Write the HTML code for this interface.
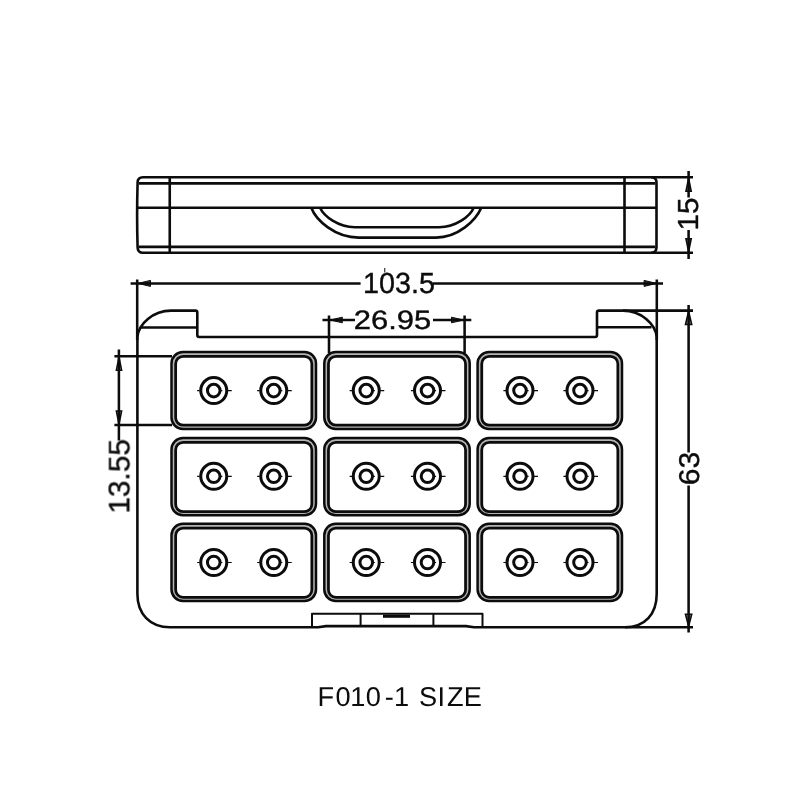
<!DOCTYPE html>
<html lang="en">
<head>
<meta charset="utf-8">
<title>F010-1 SIZE</title>
<style>
html,body{margin:0;padding:0;background:#fff;}
body{width:800px;height:800px;overflow:hidden;font-family:"Liberation Sans",sans-serif;}
svg{display:block;}
</style>
</head>
<body>
<svg width="800" height="800" viewBox="0 0 800 800" role="img" aria-label="F010-1 size drawing">
<rect width="800" height="800" fill="#ffffff"/>
<g fill="none" stroke="#0c0c0c" stroke-linecap="butt" stroke-linejoin="round">
<!-- side view -->
<g stroke-width="2.6">
<path d="M143,177.3H651.2Q656.5,177.3 656.5,182.7V247.2Q656.5,252.7 651.2,252.7H143Q137.6,252.7 137.6,247.2Q136.6,215 137.6,182.7Q137.6,177.3 143,177.3Z"/>
<path d="M139,183.4H655.3M137.3,207.8H656.5M139,246.9H655.3"/>
<path d="M169.75,177.3V252.7M624.5,177.3V252.7"/>
<path d="M311.3,207.8C316,220.3 335,237.6 358.75,237.6H436C458,237.6 476,220.3 481.25,207.8"/>
<path d="M320,207.8C324,216.3 338,227.2 355,227.2H439C456,227.2 470,216.3 473.75,207.8"/>
</g>
<!-- top view body -->
<g stroke-width="2.6">
<path d="M137.4,337C138.6,324 153,310.6 171,310.6H195.3Q197.3,310.6 197.3,312.6V335Q197.3,337 199.3,337H595Q597,337 597,335V312.6Q597,310.6 599,310.6H623C641,310.6 655.6,324 656.7,337V594C656.7,614 645,627.3 625,627.3H474L466,626.1H326L318,627.3H170C150,627.3 137.4,614 137.4,594Z"/>
<path d="M141,327.5H197.3M597,327.2H651.5"/>
<path d="M312,626.8V613.8H482.5V626.8M360.6,613.8V626.8M433.4,613.8V626.8" stroke-width="2.0"/>
<path d="M383,616.2H410" stroke-width="3.2"/>
</g>
<!-- cells -->
<g stroke-width="2.5">
<g stroke="#b4b4b4" stroke-width="3"><rect x="173.57" y="354.07" width="140.35" height="72.75" rx="9.4" ry="9.4"/>
<rect x="326.38" y="354.07" width="141.25" height="72.75" rx="9.4" ry="9.4"/>
<rect x="479.68" y="354.07" width="140.25" height="72.75" rx="9.4" ry="9.4"/>
<rect x="173.57" y="440.07" width="140.35" height="73.15" rx="9.4" ry="9.4"/>
<rect x="326.38" y="440.07" width="141.25" height="73.15" rx="9.4" ry="9.4"/>
<rect x="479.68" y="440.07" width="140.25" height="73.15" rx="9.4" ry="9.4"/>
<rect x="173.57" y="525.78" width="140.35" height="73.15" rx="9.4" ry="9.4"/>
<rect x="326.38" y="525.78" width="141.25" height="73.15" rx="9.4" ry="9.4"/>
<rect x="479.68" y="525.78" width="140.25" height="73.15" rx="9.4" ry="9.4"/></g>
<rect x="171.50" y="352.00" width="144.50" height="76.90" rx="11.5" ry="11.5" stroke-width="2.5"/>
<rect x="175.65" y="356.40" width="136.20" height="68.80" rx="7.4" ry="7.4" stroke-width="2.75"/>
<rect x="324.30" y="352.00" width="145.40" height="76.90" rx="11.5" ry="11.5" stroke-width="2.5"/>
<rect x="328.45" y="356.40" width="137.10" height="68.80" rx="7.4" ry="7.4" stroke-width="2.75"/>
<rect x="477.60" y="352.00" width="144.40" height="76.90" rx="11.5" ry="11.5" stroke-width="2.5"/>
<rect x="481.75" y="356.40" width="136.10" height="68.80" rx="7.4" ry="7.4" stroke-width="2.75"/>
<rect x="171.50" y="438.00" width="144.50" height="77.30" rx="11.5" ry="11.5" stroke-width="2.5"/>
<rect x="175.65" y="442.40" width="136.20" height="69.20" rx="7.4" ry="7.4" stroke-width="2.75"/>
<rect x="324.30" y="438.00" width="145.40" height="77.30" rx="11.5" ry="11.5" stroke-width="2.5"/>
<rect x="328.45" y="442.40" width="137.10" height="69.20" rx="7.4" ry="7.4" stroke-width="2.75"/>
<rect x="477.60" y="438.00" width="144.40" height="77.30" rx="11.5" ry="11.5" stroke-width="2.5"/>
<rect x="481.75" y="442.40" width="136.10" height="69.20" rx="7.4" ry="7.4" stroke-width="2.75"/>
<rect x="171.50" y="523.70" width="144.50" height="77.30" rx="11.5" ry="11.5" stroke-width="2.5"/>
<rect x="175.65" y="528.10" width="136.20" height="69.20" rx="7.4" ry="7.4" stroke-width="2.75"/>
<rect x="324.30" y="523.70" width="145.40" height="77.30" rx="11.5" ry="11.5" stroke-width="2.5"/>
<rect x="328.45" y="528.10" width="137.10" height="69.20" rx="7.4" ry="7.4" stroke-width="2.75"/>
<rect x="477.60" y="523.70" width="144.40" height="77.30" rx="11.5" ry="11.5" stroke-width="2.5"/>
<rect x="481.75" y="528.10" width="136.10" height="69.20" rx="7.4" ry="7.4" stroke-width="2.75"/>
</g>
<circle cx="213.75" cy="390.6" r="13.0" stroke-width="3.0"/>
<circle cx="213.75" cy="390.6" r="6.3" stroke-width="3.0"/>
<path d="M197.15,390.6H199.75M227.75,390.6H231.75M219.75,390.6H222.35" stroke-width="1.2"/>
<circle cx="273.75" cy="390.6" r="13.0" stroke-width="3.0"/>
<circle cx="273.75" cy="390.6" r="6.3" stroke-width="3.0"/>
<path d="M257.15,390.6H259.75M287.75,390.6H291.75M279.75,390.6H282.35" stroke-width="1.2"/>
<circle cx="366.25" cy="390.6" r="13.0" stroke-width="3.0"/>
<circle cx="366.25" cy="390.6" r="6.3" stroke-width="3.0"/>
<path d="M349.65,390.6H352.25M380.25,390.6H384.25M372.25,390.6H374.85" stroke-width="1.2"/>
<circle cx="427.5" cy="390.6" r="13.0" stroke-width="3.0"/>
<circle cx="427.5" cy="390.6" r="6.3" stroke-width="3.0"/>
<path d="M410.9,390.6H413.5M441.5,390.6H445.5M433.5,390.6H436.1" stroke-width="1.2"/>
<circle cx="520.0" cy="390.6" r="13.0" stroke-width="3.0"/>
<circle cx="520.0" cy="390.6" r="6.3" stroke-width="3.0"/>
<path d="M503.4,390.6H506.0M534.0,390.6H538.0M526.0,390.6H528.6" stroke-width="1.2"/>
<circle cx="580.0" cy="390.6" r="13.0" stroke-width="3.0"/>
<circle cx="580.0" cy="390.6" r="6.3" stroke-width="3.0"/>
<path d="M563.4,390.6H566.0M594.0,390.6H598.0M586.0,390.6H588.6" stroke-width="1.2"/>
<circle cx="213.75" cy="476.3" r="13.0" stroke-width="3.0"/>
<circle cx="213.75" cy="476.3" r="6.3" stroke-width="3.0"/>
<path d="M197.15,476.3H199.75M227.75,476.3H231.75M219.75,476.3H222.35" stroke-width="1.2"/>
<circle cx="273.75" cy="476.3" r="13.0" stroke-width="3.0"/>
<circle cx="273.75" cy="476.3" r="6.3" stroke-width="3.0"/>
<path d="M257.15,476.3H259.75M287.75,476.3H291.75M279.75,476.3H282.35" stroke-width="1.2"/>
<circle cx="366.25" cy="476.3" r="13.0" stroke-width="3.0"/>
<circle cx="366.25" cy="476.3" r="6.3" stroke-width="3.0"/>
<path d="M349.65,476.3H352.25M380.25,476.3H384.25M372.25,476.3H374.85" stroke-width="1.2"/>
<circle cx="427.5" cy="476.3" r="13.0" stroke-width="3.0"/>
<circle cx="427.5" cy="476.3" r="6.3" stroke-width="3.0"/>
<path d="M410.9,476.3H413.5M441.5,476.3H445.5M433.5,476.3H436.1" stroke-width="1.2"/>
<circle cx="520.0" cy="476.3" r="13.0" stroke-width="3.0"/>
<circle cx="520.0" cy="476.3" r="6.3" stroke-width="3.0"/>
<path d="M503.4,476.3H506.0M534.0,476.3H538.0M526.0,476.3H528.6" stroke-width="1.2"/>
<circle cx="580.0" cy="476.3" r="13.0" stroke-width="3.0"/>
<circle cx="580.0" cy="476.3" r="6.3" stroke-width="3.0"/>
<path d="M563.4,476.3H566.0M594.0,476.3H598.0M586.0,476.3H588.6" stroke-width="1.2"/>
<circle cx="213.75" cy="562.5" r="13.0" stroke-width="3.0"/>
<circle cx="213.75" cy="562.5" r="6.3" stroke-width="3.0"/>
<path d="M197.15,562.5H199.75M227.75,562.5H231.75M219.75,562.5H222.35" stroke-width="1.2"/>
<circle cx="273.75" cy="562.5" r="13.0" stroke-width="3.0"/>
<circle cx="273.75" cy="562.5" r="6.3" stroke-width="3.0"/>
<path d="M257.15,562.5H259.75M287.75,562.5H291.75M279.75,562.5H282.35" stroke-width="1.2"/>
<circle cx="366.25" cy="562.5" r="13.0" stroke-width="3.0"/>
<circle cx="366.25" cy="562.5" r="6.3" stroke-width="3.0"/>
<path d="M349.65,562.5H352.25M380.25,562.5H384.25M372.25,562.5H374.85" stroke-width="1.2"/>
<circle cx="427.5" cy="562.5" r="13.0" stroke-width="3.0"/>
<circle cx="427.5" cy="562.5" r="6.3" stroke-width="3.0"/>
<path d="M410.9,562.5H413.5M441.5,562.5H445.5M433.5,562.5H436.1" stroke-width="1.2"/>
<circle cx="520.0" cy="562.5" r="13.0" stroke-width="3.0"/>
<circle cx="520.0" cy="562.5" r="6.3" stroke-width="3.0"/>
<path d="M503.4,562.5H506.0M534.0,562.5H538.0M526.0,562.5H528.6" stroke-width="1.2"/>
<circle cx="580.0" cy="562.5" r="13.0" stroke-width="3.0"/>
<circle cx="580.0" cy="562.5" r="6.3" stroke-width="3.0"/>
<path d="M563.4,562.5H566.0M594.0,562.5H598.0M586.0,562.5H588.6" stroke-width="1.2"/>
<!-- dimensions -->
<g stroke-width="2.55">
<path d="M651,177.3H693M651,252.7H693M688.6,171V197.5M688.6,230V259"/>
<path d="M137.2,279.4V340M656.8,279.4V340M130.6,283.4H360.6M433,283.4H663"/>
<path d="M329,315.6V353M464.6,315.6V353M322.5,320H355M433,320H471.3"/>
<path d="M114.4,356.25H172M114.4,425H172M118.9,349.4V440.6"/>
<path d="M623,310.6H693M625,627.3H693M688.6,305V452.5M688.6,485.6V632.5"/>
<path d="M384.75,268V272.5" stroke-width="1"/>
</g>
<polygon points="688.60,178.30 686.00,191.30 691.20,191.30" fill="#0c0c0c" fill-opacity="0.35" stroke-width="1.6" stroke-linejoin="miter"/>
<polygon points="688.60,251.70 686.00,238.70 691.20,238.70" fill="#0c0c0c" fill-opacity="0.35" stroke-width="1.6" stroke-linejoin="miter"/>
<polygon points="138.00,283.40 150.50,280.40 150.50,286.40" fill="#0c0c0c" fill-opacity="0.85" stroke-width="1" stroke-linejoin="miter"/>
<polygon points="656.60,283.40 644.10,280.40 644.10,286.40" fill="#0c0c0c" fill-opacity="0.85" stroke-width="1" stroke-linejoin="miter"/>
<polygon points="330.30,320.00 342.30,317.20 342.30,322.80" fill="#0c0c0c" fill-opacity="0.85" stroke-width="1" stroke-linejoin="miter"/>
<polygon points="463.50,320.00 451.50,317.20 451.50,322.80" fill="#0c0c0c" fill-opacity="0.85" stroke-width="1" stroke-linejoin="miter"/>
<polygon points="119.00,357.20 116.40,370.20 121.60,370.20" fill="#0c0c0c" fill-opacity="0.35" stroke-width="1.6" stroke-linejoin="miter"/>
<polygon points="119.00,424.00 116.40,411.00 121.60,411.00" fill="#0c0c0c" fill-opacity="0.35" stroke-width="1.6" stroke-linejoin="miter"/>
<polygon points="688.60,311.50 685.50,324.50 691.70,324.50" fill="#0c0c0c" fill-opacity="0.35" stroke-width="1.6" stroke-linejoin="miter"/>
<polygon points="688.60,626.30 685.50,614.30 691.70,614.30" fill="#0c0c0c" fill-opacity="0.35" stroke-width="1.6" stroke-linejoin="miter"/>
</g>
<g fill="#0c0c0c" stroke="#0c0c0c" stroke-width="0.4" font-family="'Liberation Sans', sans-serif" style="will-change:transform" text-rendering="geometricPrecision">
<text id="t1035" x="363" y="293.2" font-size="29" textLength="72" lengthAdjust="spacingAndGlyphs">103.5</text>
<text id="t2695" x="353.8" y="329.0" font-size="26.6" textLength="77.5" lengthAdjust="spacingAndGlyphs">26.95</text>
<text id="t15" transform="translate(698.4,230.4) rotate(-90)" font-size="29" textLength="33" lengthAdjust="spacingAndGlyphs">15</text>
<text id="t63" transform="translate(698.6,485.2) rotate(-90)" font-size="28.6" textLength="33.5" lengthAdjust="spacingAndGlyphs">63</text>
<text id="t1355" transform="translate(129.3,513.6) rotate(-90)" font-size="29.6" textLength="74.5" lengthAdjust="spacingAndGlyphs">13.55</text>
<text id="cap" stroke="none" x="317.6 335.6 350.3 365.7 384.7 393.9 408.9 418.9 437.5 446.9 463.8" y="706.3" font-size="27.2">F010-1 SIZE</text>
</g>
</svg>
</body>
</html>
